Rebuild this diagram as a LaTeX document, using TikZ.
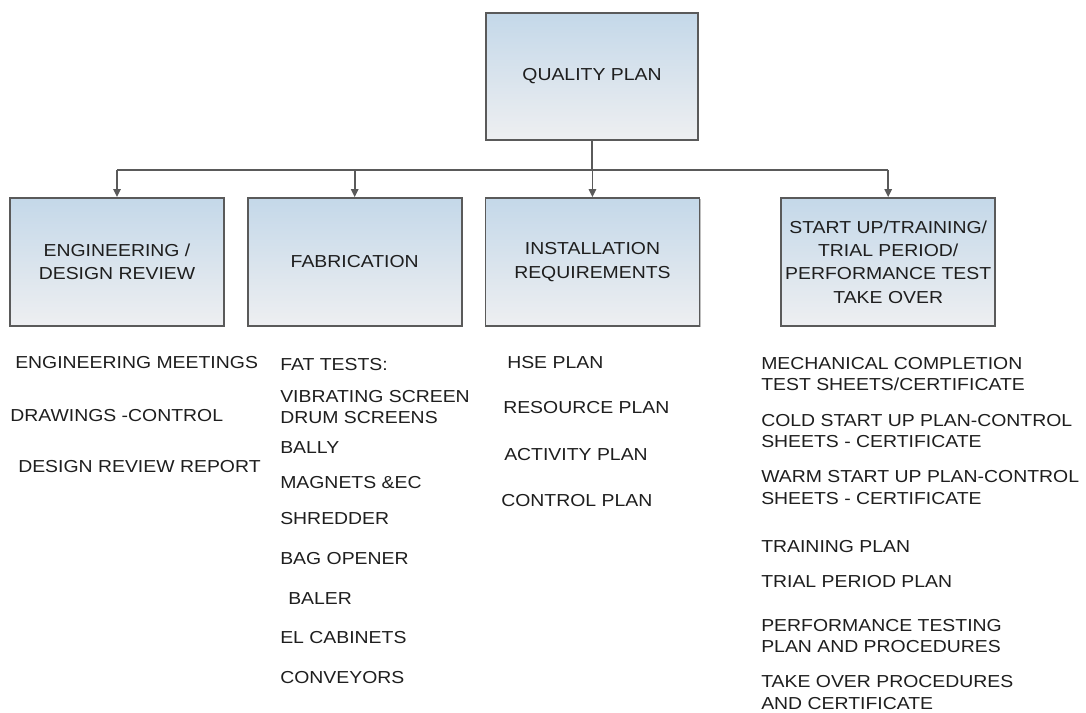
\documentclass[tikz,border=0pt]{standalone}
\usepackage{fontspec}
\setmainfont{Liberation Sans}[FakeStretch=1.12]
\usetikzlibrary{arrows.meta,positioning,shadows}
\definecolor{boxtop}{HTML}{C4D8E9}
\definecolor{boxbot}{HTML}{EEEFF1}
\definecolor{edge}{HTML}{5A5A5A}
\definecolor{ink}{HTML}{1E1E1E}
\tikzset{
  box/.style={draw=edge, line width=1.3pt, top color=boxtop, bottom color=boxbot, align=center, minimum width=160.5pt, minimum height=96pt, inner sep=2pt, font=\fontsize{13}{17.5}\selectfont, text=ink, drop shadow={shadow xshift=0.8pt, shadow yshift=-0.8pt, opacity=0.25, fill=black}},
  item/.style={anchor=west, align=left, inner sep=0pt, font=\fontsize{13}{16}\selectfont, text=ink},
  link/.style={draw=edge, line width=1.3pt},
  arrow/.style={link, -{Triangle[length=6pt,width=5.5pt]}}
}

\begin{document}
\begin{tikzpicture}[x=0.75pt, y=-0.75pt]
\useasboundingbox (0,0) rectangle (1086,713);
% boxes
\node[box, minimum width=159pt, minimum height=95.25pt] (plan) at (592,76.5) {QUALITY PLAN};
\node[box] (engg) at (117,262) {ENGINEERING /\\DESIGN REVIEW};
\node[box, right=16.5pt of engg] (fab) {FABRICATION};
\node[box, right=16.5pt of fab] (inst) {INSTALLATION\\REQUIREMENTS};
\node[box, right=60pt of inst] (start) {START UP/TRAINING/\\TRIAL PERIOD/\\PERFORMANCE TEST\\TAKE OVER};
% connectors
\coordinate (bus) at (592,170);
\draw[link] (plan.south) -- (bus);
\draw[link] (bus -| engg.north) -- (bus -| start.north);
\foreach \n in {engg,fab,inst,start}
  \draw[arrow] (bus -| \n.north) -- (\n.north);
% lists under the boxes
\foreach \x/\y/\t [count=\i] in {15/363/ENGINEERING MEETINGS, 10/416/DRAWINGS -CONTROL, 18/467/DESIGN REVIEW REPORT}
  \node[item] (engg-\i) at (\x,\y) {\t};
\foreach \x/\y/\t [count=\i] in {280/365/FAT TESTS:, 280/407/{VIBRATING SCREEN\\DRUM SCREENS}, 280/448/BALLY, 280/483/MAGNETS \&EC, 280/519/SHREDDER, 280/559/BAG OPENER, 288/599/BALER, 280/638/EL CABINETS, 280/678/CONVEYORS}
  \node[item] (fab-\i) at (\x,\y) {\t};
\foreach \x/\y/\t [count=\i] in {507/363/HSE PLAN, 503/408/RESOURCE PLAN, 504/455/ACTIVITY PLAN, 501/501/CONTROL PLAN}
  \node[item] (inst-\i) at (\x,\y) {\t};
\foreach \x/\y/\t [count=\i] in {761/374/{MECHANICAL COMPLETION\\TEST SHEETS/CERTIFICATE}, 761/431/{COLD START UP PLAN-CONTROL\\SHEETS - CERTIFICATE}, 761/487.5/{WARM START UP PLAN-CONTROL\\SHEETS - CERTIFICATE}, 761/547/TRAINING PLAN, 761/582/TRIAL PERIOD PLAN, 761/636/{PERFORMANCE TESTING\\PLAN AND PROCEDURES}, 761/692.5/{TAKE OVER PROCEDURES\\AND CERTIFICATE}}
  \node[item] (start-\i) at (\x,\y) {\t};
\end{tikzpicture}
\end{document}
